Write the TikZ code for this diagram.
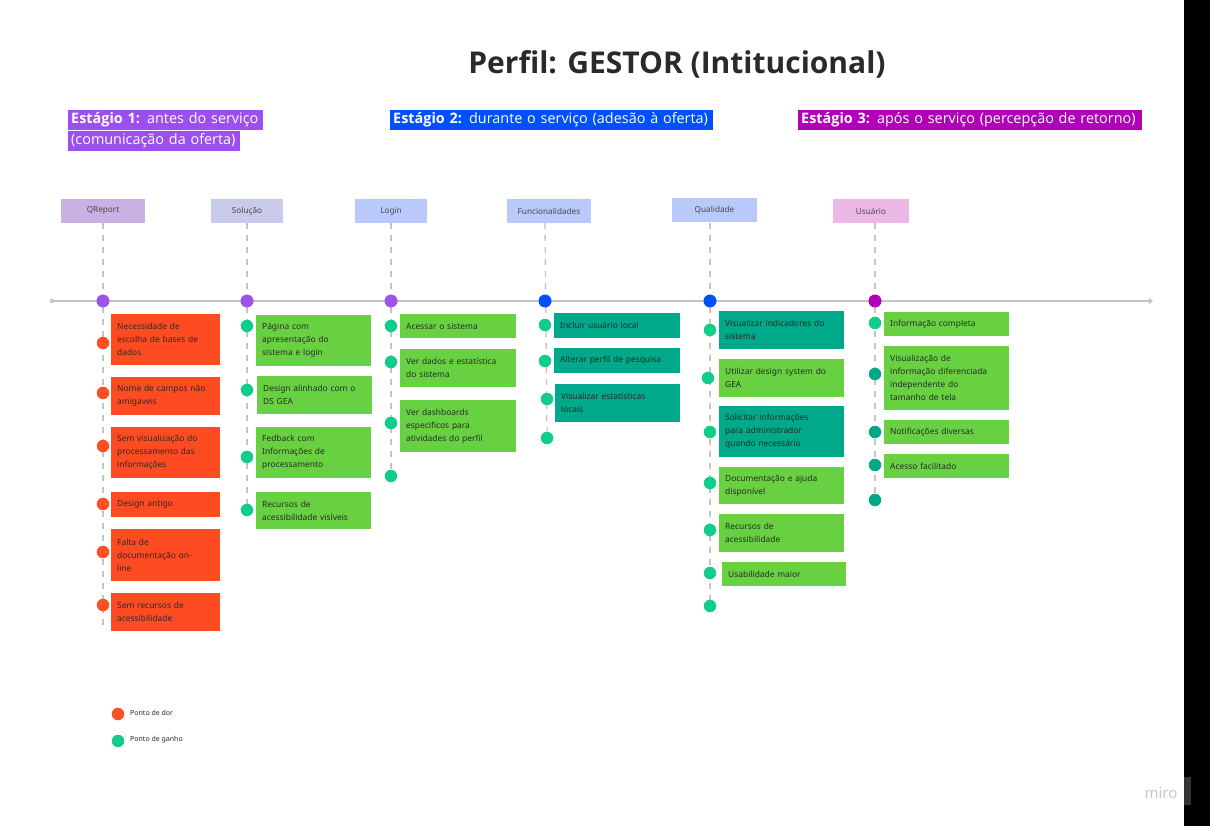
\documentclass[tikz,border=0pt]{standalone}
\usepackage{fontspec}
\setmainfont{Noto Sans}
\newfontfamily\titlefont{Open Sans}
\usetikzlibrary{arrows.meta}
\definecolor{cred}{HTML}{FF4B21}
\definecolor{cgreen}{HTML}{67D141}
\definecolor{cteal}{HTML}{00A989}
\definecolor{dred}{HTML}{FF5025}
\definecolor{dgreen}{HTML}{12CD8A}
\definecolor{dteal}{HTML}{00A88A}
\definecolor{txt}{HTML}{2A2A2A}
\definecolor{pdot}{HTML}{9B55EE}
\definecolor{bdot}{HTML}{0050FF}
\definecolor{mdot}{HTML}{B000B8}
\definecolor{hq}{HTML}{C9B1E3}
\definecolor{hs}{HTML}{C8CBEB}
\definecolor{hb}{HTML}{B9C9FB}
\definecolor{hu}{HTML}{ECB8E6}
\definecolor{lgray}{HTML}{C4C4C4}
\definecolor{s1}{HTML}{9D4EF0}
\definecolor{s2}{HTML}{0050FF}
\definecolor{s3}{HTML}{B000B8}
\definecolor{mirocol}{HTML}{C6C6D8}
\begin{document}
\begin{tikzpicture}[x=1pt,y=-1pt,
  card/.style={anchor=north west, inner xsep=6pt, inner ysep=0pt, font=\fontsize{8.4}{13}\selectfont, text=txt, align=left},
  dot/.style={circle, minimum size=12.5pt, inner sep=0pt},
  tdot/.style={circle, minimum size=13pt, inner sep=0pt},
  header/.style={minimum height=24pt, inner sep=0pt, font=\fontsize{8.2}{9}\selectfont, text=txt!85},
  dashline/.style={draw=lgray, line width=1.3pt, dash pattern=on 6pt off 6pt},
  stage/.style={anchor=north west, minimum height=20pt, inner xsep=3pt, inner ysep=0pt, text=white, align=left, font=\titlefont\fontsize{14.4}{16}\selectfont},
  legend/.style={anchor=west, inner sep=0pt, font=\fontsize{7}{9}\selectfont, text=txt}
]
\useasboundingbox (0,0) rectangle (1210,826);
\fill[white] (0,0) rectangle (1184,826);
\fill[black] (1184,0) rectangle (1210,826);
\fill[black!80] (1184,777) rectangle (1191,805);
\node[text=mirocol, font=\fontsize{15}{15}\selectfont] (miro) at (1161,793) {miro};

% title
\node[font=\titlefont\bfseries\fontsize{30}{34}\selectfont, text=txt] (title) at (677,64) {Perfil: GESTOR (Intitucional)};

% stages
\node[stage, fill=s1, text width=189pt] (st1a) at (68,110) {\mbox{\textbf{Estágio 1:} antes do serviço}};
\node[stage, fill=s1, text width=166pt] (st1b) at (68,131) {\mbox{(comunicação da oferta)}};
\node[stage, fill=s2, text width=317pt] (st2) at (390,110) {\mbox{\textbf{Estágio 2:} durante o serviço (adesão à oferta)}};
\node[stage, fill=s3, text width=338pt] (st3) at (798,110) {\mbox{\textbf{Estágio 3:} após o serviço (percepção de retorno)}};

% headers
\node[header, fill=hq, minimum width=84pt] (h1) at (103,211) {QReport};
\node[header, fill=hs, minimum width=72pt] (h2) at (247,211) {Solução};
\node[header, fill=hb, minimum width=72pt] (h3) at (391,211) {Login};
\node[header, fill=hb, minimum width=84pt] (h4) at (549,211) {Funcionalidades};
\node[header, fill=hb, minimum width=85pt] (h5) at (714.5,210.5) {Qualidade};
\node[header, fill=hu, minimum width=76pt] (h6) at (871,211) {Usuário};

% timeline
\coordinate (tlS) at (52,301);
\coordinate (tlE) at (1153,301);
\coordinate (e1) at (103,625);
\coordinate (e2) at (247,516);

% end dots
\node[dot, fill=dgreen] (e3) at (391,476) {};
\node[dot, fill=dgreen] (e4) at (547,438) {};
\node[dot, fill=dgreen] (e5) at (710,606) {};
\node[dot, fill=dteal] (e6) at (875,500) {};

\draw[dashline] (h1.south -| e1) -- (e1);
\draw[dashline] (h2.south -| e2) -- (e2);
\draw[dashline] (h3.south -| e3) -- (e3);
\draw[dashline] (h4.south -| 545,0) -- (e4);
\draw[dashline] (h5.south -| e5) -- (e5);
\draw[dashline] (h6.south -| e6) -- (e6);

\draw[lgray, line width=1.3pt, -{Straight Barb[length=3pt,width=5pt]}] (tlS) -- (tlE);
\fill[lgray] (tlS) circle (2.2pt);

\node[tdot, fill=pdot] (t1) at (103,301) {};
\node[tdot, fill=pdot] (t2) at (247,301) {};
\node[tdot, fill=pdot] (t3) at (391,301) {};
\node[tdot, fill=bdot] (t4) at (545,301) {};
\node[tdot, fill=bdot] (t5) at (710,301) {};
\node[tdot, fill=mdot] (t6) at (875,301) {};

% column 1
\node[card, fill=cred, text width=97pt, minimum height=51pt] (c11) at (111,314) {Necessidade de\\escolha de bases de\\dados};
\node[card, fill=cred, text width=97pt, minimum height=38pt] (c12) at (111,377) {Nome de campos não\\amigaveis};
\node[card, fill=cred, text width=97pt, minimum height=51pt] (c13) at (111,427) {Sem visualização do\\processamento das\\informações};
\node[card, fill=cred, text width=97pt, minimum height=25pt] (c14) at (111,492) {Design antigo};
\node[card, fill=cred, text width=97pt, minimum height=52pt] (c15) at (111,529) {Falta de\\documentação on-\\line};
\node[card, fill=cred, text width=97pt, minimum height=38pt] (c16) at (111,593) {Sem recursos de\\acessibilidade};
\foreach \n/\y in {1/343,2/393,3/446,4/504,5/552,6/605}
  \node[dot, fill=dred] (d1\n) at (103,\y) {};

% column 2
\node[card, fill=cgreen, text width=103pt, minimum height=51pt] (c21) at (256,315) {Página com\\apresentação do\\sistema e login};
\node[card, fill=cgreen, text width=103pt, minimum height=38pt] (c22) at (257,376) {Design alinhado com o\\DS GEA};
\node[card, fill=cgreen, text width=103pt, minimum height=51pt] (c23) at (256,427) {Fedback com\\Informações de\\processamento};
\node[card, fill=cgreen, text width=103pt, minimum height=37pt] (c24) at (256,492) {Recursos de\\acessibilidade visíveis};
\foreach \n/\y in {1/326,2/390,3/457,4/510}
  \node[dot, fill=dgreen] (d2\n) at (247,\y) {};

% column 3
\node[card, fill=cgreen, text width=104pt, minimum height=24pt] (c31) at (400,314) {Acessar o sistema};
\node[card, fill=cgreen, text width=104pt, minimum height=38pt] (c32) at (400,349) {Ver dados e estatística\\do sistema};
\node[card, fill=cgreen, text width=104pt, minimum height=52pt] (c33) at (400,400) {Ver dashboards\\especificos para\\atividades do perfil};
\foreach \n/\y in {1/326,2/362,3/423}
  \node[dot, fill=dgreen] (d3\n) at (391,\y) {};

% column 4
\node[card, fill=cteal, text width=114pt, minimum height=25pt] (c41) at (554,313) {Incluir usuário local};
\node[card, fill=cteal, text width=114pt, minimum height=25pt] (c42) at (554,348) {Alterar perfil de pesquisa};
\node[card, fill=cteal, text width=113pt, minimum height=38pt] (c43) at (555,384) {Visualizar estatísticas\\locais};
\node[dot, fill=dgreen] (d41) at (545,325) {};
\node[dot, fill=dgreen] (d42) at (545,361) {};
\node[dot, fill=dgreen] (d43) at (547,399) {};

% column 5
\node[card, fill=cteal, text width=113pt, minimum height=38pt] (c51) at (719,311) {Visualizar indicadores do\\sistema};
\node[card, fill=cgreen, text width=113pt, minimum height=38pt] (c52) at (719,359) {Utilizar design system do\\GEA};
\node[card, fill=cteal, text width=113pt, minimum height=51pt] (c53) at (719,406) {Solicitar informações\\para administrador\\quando necessário};
\node[card, fill=cgreen, text width=113pt, minimum height=37pt] (c54) at (719,467) {Documentação e ajuda\\disponível};
\node[card, fill=cgreen, text width=113pt, minimum height=38pt] (c55) at (719,514) {Recursos de\\acessibilidade};
\node[card, fill=cgreen, text width=112pt, minimum height=24pt] (c56) at (722,562) {Usabilidade maior};
\node[dot, fill=dgreen] (d51) at (710,330) {};
\node[dot, fill=dgreen] (d52) at (708,378) {};
\node[dot, fill=dgreen] (d53) at (710,432) {};
\node[dot, fill=dgreen] (d54) at (710,483) {};
\node[dot, fill=dgreen] (d55) at (710,530) {};
\node[dot, fill=dgreen] (d56) at (710,573) {};

% column 6
\node[card, fill=cgreen, text width=113pt, minimum height=24pt] (c61) at (884,312) {Informação completa};
\node[card, fill=cgreen, text width=113pt, minimum height=64pt] (c62) at (884,346) {Visualização de\\informação diferenciada\\independente do\\tamanho de tela};
\node[card, fill=cgreen, text width=113pt, minimum height=24pt] (c63) at (884,420) {Notificações diversas};
\node[card, fill=cgreen, text width=113pt, minimum height=24pt] (c64) at (884,454) {Acesso facilitado};
\node[dot, fill=dgreen] (d61) at (875,323) {};
\node[dot, fill=dteal] (d62) at (875,374) {};
\node[dot, fill=dteal] (d63) at (875,432) {};
\node[dot, fill=dteal] (d64) at (875,465) {};

% legend
\node[dot, fill=dred] (ldor) at (118,714) {};
\node[legend] (tdor) at (130,713) {Ponto de dor};
\node[dot, fill=dgreen] (lganho) at (118,741) {};
\node[legend] (tganho) at (130,740) {Ponto de ganho};
\end{tikzpicture}
\end{document}
